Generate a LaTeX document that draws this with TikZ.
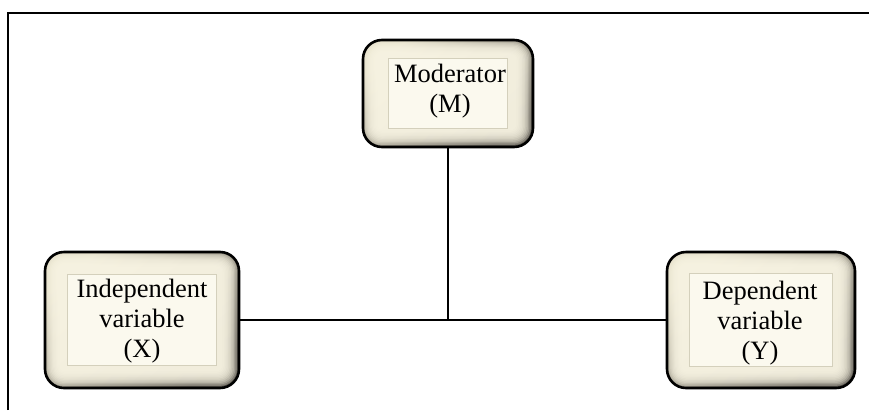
\documentclass[tikz,border=0pt]{standalone}
\usepackage{fontspec}
\setmainfont{Liberation Serif}
\usetikzlibrary{calc}

\definecolor{pillowlight}{HTML}{E4DFCA}
\definecolor{pillowdark}{HTML}{5E5A52}
\definecolor{pillowcream}{HTML}{F8F4E3}
\definecolor{panelfill}{HTML}{FBF9EE}
\definecolor{panelline}{HTML}{D4D0BC}

\tikzset{
  pillow/.style={draw=black, line width=2.6pt, rounded corners=19pt,
    top color=pillowlight, bottom color=pillowdark, shading angle=40,
    inner sep=0pt},
  panel/.style={fill=panelfill, draw=panelline, line width=0.9pt},
  label/.style={align=center, inner sep=0pt, font=\fontsize{26.5}{30}\selectfont},
  link/.style={draw=black, line width=1.8pt},
  frame/.style={draw=black, line width=2.2pt}
}

% embossed box: #1 name, #2 centre, #3 width, #4 height,
% #5 horizontal and #6 vertical inset of the flat text panel
\newcommand\pillowbox[6]{%
  \node[pillow, minimum width=#3, minimum height=#4] (#1) at #2 {};
  \foreach \k in {1,...,11}{%
    \pgfmathsetmacro\rad{max(5,18-1.1*\k)}%
    \fill[pillowcream, fill opacity=0.26, rounded corners=\rad pt]
      ($(#1.north west)+(2+1.25*\k,2+1.25*\k)$) rectangle
      ($(#1.south east)+(-2-1.45*\k,-2-1.45*\k)$);
  }
  \path[panel] ($(#1.north west)+(#5,#6)$) rectangle ($(#1.south east)+(-#5,-#6)$);
}

\begin{document}
\begin{tikzpicture}[x=1pt, y=-1pt]
  \useasboundingbox (0,0) rectangle (869,410);

  % open frame along the top and left
  \draw[frame] (8,410) -- (8,13) -- (869,13);

  \pillowbox{M}{(448,93.5)}{170}{107}{27}{20}
  \pillowbox{X}{(142,320)}{194}{136}{24}{24}
  \pillowbox{Y}{(761,320)}{188}{136}{24}{23}

  \node[label] (mtext) at (450,91)  {Moderator\\(M)};
  \node[label] (xtext) at (142,321) {Independent\\variable\\(X)};
  \node[label] (ytext) at (760,323) {Dependent\\variable\\(Y)};

  % connectors
  \coordinate (j) at (M.south |- X.east);
  \draw[link] (M.south) -- (j);
  \draw[link] (X.east) -- (Y.west);
\end{tikzpicture}
\end{document}
